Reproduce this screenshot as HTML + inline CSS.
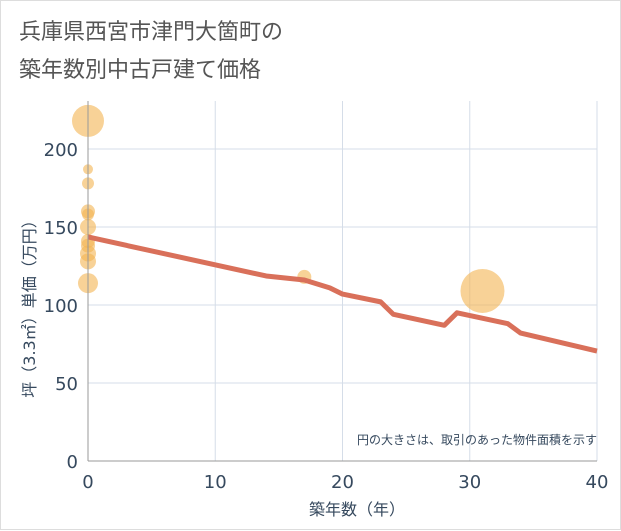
<!DOCTYPE html>
<html><head><meta charset="utf-8"><style>
body{margin:0;background:#fff;font-family:"DejaVu Sans","Noto Sans CJK JP",sans-serif}
#wrap{position:relative;width:621px;height:530px;background:#fff;border:1px solid #ddd;box-sizing:border-box}
</style></head><body>
<div id="wrap">
<svg id="chart" width="621" height="530" style="position:absolute;left:0;top:0">
<text x="18" y="38" font-size="22" fill="#555" font-family="DejaVu Sans, Noto Sans CJK JP, sans-serif">兵庫県西宮市津門大箇町の</text>
<text x="18" y="76" font-size="22" fill="#555" font-family="DejaVu Sans, Noto Sans CJK JP, sans-serif">築年数別中古戸建て価格</text>
<g id="grid"></g><g id="marks"></g><g id="axes"></g>
<text x="596" y="443" font-size="12" fill="#36495e" text-anchor="end" font-family="DejaVu Sans, Noto Sans CJK JP, sans-serif">円の大きさは、取引のあった物件面積を示す</text>
<text x="356" y="514" font-size="16" fill="#36495e" text-anchor="middle" font-family="DejaVu Sans, Noto Sans CJK JP, sans-serif">築年数（年）</text>
<text transform="translate(34,304) rotate(-90)" font-size="16" fill="#36495e" text-anchor="middle" font-family="DejaVu Sans, Noto Sans CJK JP, sans-serif">坪（3.3㎡）単価（万円）</text>
</svg>
</div>
<script>
const xTicks=[0,10,20,30,40];
const yTicks=[0,50,100,150,200];
const lineX=[0,14,17,19,20,23,24,28,29,33,34,40];
const lineY=[143.6,118.6,116,111,107,102,94,87,95,88,82,70.5];
const bubbleX=[0,0,0,0,0,0,0,0,0,0,0,17,31];
const bubbleY=[218,187,178,160,158,150,141,138,133,128,114,118,109];
const bubbleR=[16,5,6,7,6,8,7,7,8,8,10,7,22];
const NS="http://www.w3.org/2000/svg";
const L=87,R=596,T=100,B=460;
const xs=v=>L+(v/40)*(R-L);
const ys=v=>B-v*1.56;
function mk(tag,attrs,parent){const e=document.createElementNS(NS,tag);for(const k in attrs)e.setAttribute(k,attrs[k]);document.getElementById(parent).appendChild(e);return e;}
xTicks.forEach(t=>{
 const g=mk('line',{x1:xs(t),x2:xs(t),y1:T,y2:B,stroke:'#d5dde8','stroke-width':1},'grid');
 
 
 const tx=mk('text',{x:xs(t),y:B+27,'font-size':18,fill:'#36495e','text-anchor':'middle'},'axes');
 tx.textContent=t;
 
 
});
yTicks.forEach(t=>{
 const g=mk('line',{x1:L,x2:R,y1:ys(t),y2:ys(t),stroke:'#d5dde8','stroke-width':1},'grid');
 
 
 const tx=mk('text',{x:L-10,y:ys(t)+7,'font-size':18,fill:'#36495e','text-anchor':'end'},'axes');
 tx.textContent=t;
 
 
});
const ax=mk('line',{x1:L,x2:R,y1:B,y2:B,stroke:'#999','stroke-width':1},'axes');


const ay=mk('line',{x1:L,x2:L,y1:T,y2:B,stroke:'#999','stroke-width':1},'axes');


bubbleX.forEach((v,i)=>{
 const c=mk('circle',{cx:xs(v),cy:ys(bubbleY[i]),r:bubbleR[i],fill:'#f3b452','fill-opacity':0.6},'marks');
 
 
});
const p=mk('polyline',{points:lineX.map((v,i)=>xs(v)+','+ys(lineY[i])).join(' '),fill:'none',stroke:'#d9705a','stroke-width':5,'stroke-linejoin':'round'},'marks');


</script>
</body></html>
